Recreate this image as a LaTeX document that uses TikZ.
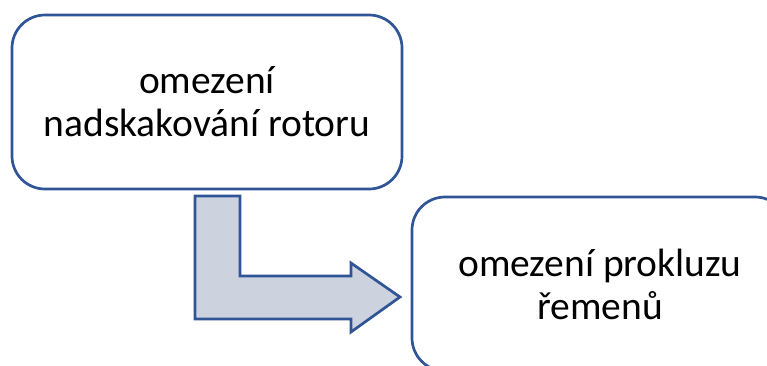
\documentclass[tikz,border=0pt]{standalone}
\usepackage{fontspec}
\setmainfont{Carlito}
\definecolor{edge}{HTML}{2F5597}
\definecolor{arrfill}{HTML}{CDD2DF}
\tikzset{
  box/.style={draw=edge, line width=2.7pt, rounded corners=33pt, fill=white,
    align=center, inner sep=0pt, font=\fontsize{39.5}{43}\selectfont},
  bent/.style={draw=edge, line width=2.7pt, fill=arrfill, line join=miter}
}
\begin{document}
\begin{tikzpicture}[x=1pt,y=-1pt]
\useasboundingbox (0,0) rectangle (767,365);
\begin{scope}
\clip (0,0) rectangle (767,365);
\node[box, minimum width=390pt, minimum height=174pt] (a) at (207,102) {omezení\\nadskakování rotoru};
\node[box, minimum width=376pt, minimum height=174pt] (b) at (600,284) {omezení prokluzu\\řemenů};
\draw[bent] (195,196) coordinate (s) -- (240,196) -- (240,276) -- (351,276) -- (351,263)
  -- (400,297) coordinate (t) -- (351,332) -- (351,319) -- (195,319) -- cycle;
\end{scope}
\end{tikzpicture}
\end{document}
